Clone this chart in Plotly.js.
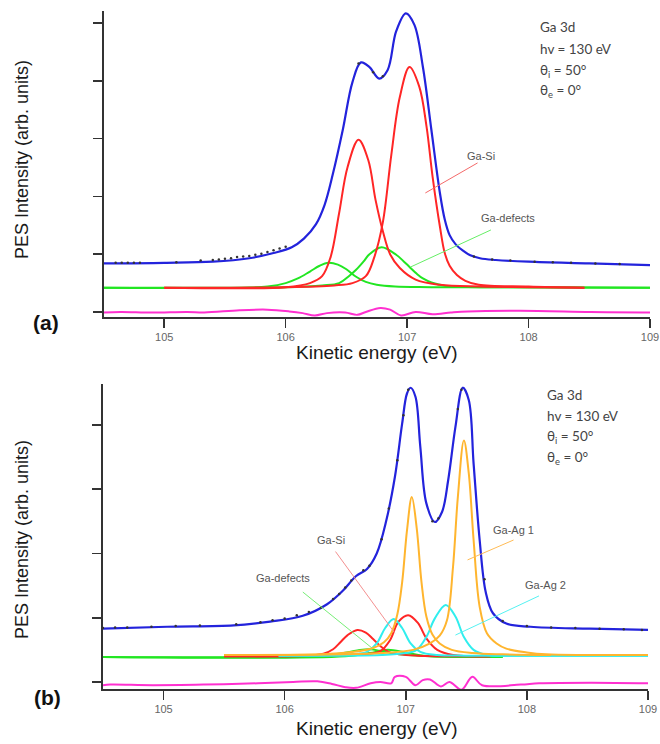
<!DOCTYPE html>
<html>
<head>
<meta charset="utf-8">
<script src="https://cdn.plot.ly/plotly-3.0.1.min.js"></script>
<style>html,body{margin:0;padding:0;background:#fff;}#chart{width:660px;height:744px;}</style>
</head>
<body>
<div id="chart"></div>
<script>
// ---------- Panel (a) data ----------
const blueA_x = [104.5, 105.0, 105.4, 105.7, 105.9, 106.05, 106.15, 106.25, 106.32, 106.39, 106.47, 106.55, 106.62, 106.69, 106.77, 106.84, 106.91, 106.99, 107.06, 107.13, 107.20, 107.27, 107.31, 107.35, 107.40, 107.46, 107.52, 107.6, 107.73, 108.0, 108.5, 109.0];
const blueA_y = [0.84, 0.85, 0.87, 0.93, 1.02, 1.12, 1.27, 1.52, 1.85, 2.40, 3.15, 3.98, 4.32, 4.24, 4.04, 4.19, 4.86, 5.17, 4.97, 4.24, 3.15, 2.06, 1.60, 1.33, 1.17, 1.06, 0.98, 0.93, 0.90, 0.87, 0.84, 0.81];

const dotsA_x = [104.6, 104.65, 104.7, 104.75, 104.8, 105.1, 105.3, 105.4, 105.45, 105.5, 105.55, 105.6, 105.65, 105.7, 105.75, 105.8, 105.85, 105.9, 105.95, 106.0, 106.6, 106.72, 106.8, 107.55, 107.7, 107.85, 108.05, 108.2, 108.35, 108.55, 108.75];
const dotsA_y = [0.85, 0.85, 0.85, 0.85, 0.85, 0.86, 0.89, 0.90, 0.91, 0.92, 0.93, 0.95, 0.96, 0.97, 0.99, 1.01, 1.04, 1.07, 1.10, 1.13, 4.30, 4.15, 4.08, 0.96, 0.91, 0.89, 0.87, 0.86, 0.85, 0.84, 0.83];

const red1A_x = [105.0, 106.0, 106.2, 106.30, 106.37, 106.44, 106.51, 106.60, 106.68, 106.74, 106.80, 106.86, 106.94, 107.07, 107.27, 107.6, 108.0, 108.46];
const red1A_y = [0.42, 0.43, 0.50, 0.62, 0.95, 1.71, 2.51, 2.98, 2.63, 1.94, 1.40, 1.00, 0.76, 0.56, 0.47, 0.44, 0.43, 0.42];

const red2A_x = [105.0, 106.0, 106.4, 106.55, 106.66, 106.73, 106.80, 106.87, 106.94, 107.02, 107.10, 107.16, 107.21, 107.27, 107.31, 107.35, 107.41, 107.48, 107.59, 108.0, 108.46];
const red2A_y = [0.42, 0.43, 0.46, 0.50, 0.62, 0.95, 1.55, 2.72, 3.72, 4.24, 3.90, 3.21, 2.34, 1.48, 1.02, 0.80, 0.64, 0.54, 0.47, 0.44, 0.42];

const green1A_x = [104.5, 105.7, 105.85, 106.0, 106.1, 106.2, 106.28, 106.35, 106.43, 106.50, 106.58, 106.66, 106.75, 106.9, 107.2, 109.0];
const green1A_y = [0.42, 0.42, 0.44, 0.50, 0.58, 0.70, 0.80, 0.85, 0.82, 0.74, 0.61, 0.52, 0.47, 0.44, 0.43, 0.42];

const green2A_x = [104.5, 106.0, 106.3, 106.44, 106.52, 106.58, 106.64, 106.69, 106.79, 106.91, 106.97, 107.02, 107.08, 107.13, 107.20, 107.27, 107.35, 107.6, 109.0];
const green2A_y = [0.42, 0.43, 0.46, 0.50, 0.62, 0.73, 0.87, 1.00, 1.12, 0.99, 0.88, 0.78, 0.66, 0.58, 0.51, 0.47, 0.44, 0.43, 0.42];

const resA_x = [104.5, 104.64, 104.90, 105.19, 105.33, 105.62, 105.85, 106.03, 106.14, 106.24, 106.34, 106.49, 106.59, 106.66, 106.78, 106.86, 106.95, 107.07, 107.21, 107.36, 107.50, 107.93, 108.51, 108.94, 109.0];
const resA_y = [-0.01, 0.0, -0.01, 0.0, -0.01, 0.03, 0.04, 0.01, -0.02, -0.06, -0.02, -0.01, -0.05, 0.0, 0.07, 0.04, -0.06, 0.0, -0.04, -0.01, 0.01, 0.02, 0.0, -0.01, -0.01];

// ---------- Panel (b) data ----------
const blueB_x = [104.5, 105.03, 105.58, 105.88, 106.15, 106.35, 106.48, 106.59, 106.68, 106.76, 106.84, 106.91, 106.97, 107.01, 107.04, 107.08, 107.12, 107.17, 107.24, 107.30, 107.35, 107.41, 107.47, 107.52, 107.56, 107.61, 107.66, 107.72, 107.83, 108.03, 108.52, 109.0];
const blueB_y = [0.83, 0.86, 0.88, 0.94, 1.03, 1.21, 1.42, 1.65, 1.76, 2.00, 2.52, 3.19, 4.02, 4.49, 4.58, 4.44, 3.66, 2.78, 2.49, 2.65, 3.14, 3.97, 4.58, 4.39, 3.40, 2.21, 1.40, 1.07, 0.91, 0.86, 0.83, 0.81];

const dotsB_x = [104.5, 104.6, 104.7, 104.9, 105.1, 105.3, 105.6, 105.8, 105.9, 106.0, 106.1, 106.2, 106.3, 106.4, 106.45, 106.5, 106.55, 106.65, 106.7, 106.8, 106.86, 106.93, 106.98, 107.02, 107.22, 107.27, 107.43, 107.46, 107.65, 107.8, 108.0, 108.2, 108.4, 108.6, 108.8, 108.95];
const dotsB_y = [0.84, 0.85, 0.85, 0.86, 0.87, 0.88, 0.90, 0.93, 0.96, 0.99, 1.04, 1.09, 1.16, 1.29, 1.37, 1.47, 1.58, 1.74, 1.81, 2.22, 2.70, 3.45, 4.15, 4.55, 2.50, 2.55, 4.25, 4.55, 1.60, 0.95, 0.87, 0.85, 0.84, 0.83, 0.82, 0.81];

const orange1B_x = [105.5, 106.3, 106.57, 106.73, 106.82, 106.88, 106.93, 106.97, 107.01, 107.05, 107.09, 107.13, 107.17, 107.22, 107.28, 107.38, 107.55, 107.8, 108.2];
const orange1B_y = [0.42, 0.43, 0.47, 0.53, 0.62, 0.76, 1.05, 1.55, 2.36, 2.88, 2.40, 1.55, 1.02, 0.74, 0.60, 0.50, 0.45, 0.43, 0.42];

const orange2B_x = [105.5, 106.5, 106.79, 107.06, 107.20, 107.28, 107.34, 107.39, 107.43, 107.48, 107.52, 107.56, 107.61, 107.67, 107.75, 107.83, 108.0, 108.16, 108.5, 109.0];
const orange2B_y = [0.42, 0.43, 0.45, 0.50, 0.60, 0.72, 0.96, 1.79, 2.88, 3.76, 3.25, 2.21, 1.17, 0.76, 0.60, 0.52, 0.46, 0.43, 0.42, 0.42];

const cyan1B_x = [105.95, 106.4, 106.6, 106.68, 106.76, 106.83, 106.90, 106.97, 107.04, 107.12, 107.26, 107.5, 109.0];
const cyan1B_y = [0.41, 0.42, 0.44, 0.47, 0.60, 0.84, 0.98, 0.84, 0.60, 0.47, 0.42, 0.41, 0.41];

const cyan2B_x = [105.95, 106.8, 107.0, 107.09, 107.17, 107.24, 107.33, 107.41, 107.48, 107.56, 107.67, 107.9, 109.0];
const cyan2B_y = [0.41, 0.42, 0.45, 0.50, 0.70, 0.99, 1.20, 1.02, 0.70, 0.50, 0.42, 0.41, 0.41];

const red1B_x = [105.5, 106.2, 106.32, 106.40, 106.46, 106.52, 106.60, 106.67, 106.73, 106.79, 106.86, 106.95, 107.1, 107.4, 107.7];
const red1B_y = [0.40, 0.41, 0.44, 0.51, 0.62, 0.73, 0.81, 0.77, 0.67, 0.56, 0.47, 0.43, 0.41, 0.40, 0.40];

const red2B_x = [105.5, 106.5, 106.70, 106.79, 106.87, 106.94, 107.02, 107.10, 107.17, 107.26, 107.39, 107.7];
const red2B_y = [0.40, 0.42, 0.44, 0.48, 0.65, 0.94, 1.04, 0.92, 0.68, 0.50, 0.42, 0.40];

const green1B_x = [104.5, 106.2, 106.45, 106.6, 106.7, 106.8, 106.95, 107.2, 107.8];
const green1B_y = [0.39, 0.40, 0.44, 0.49, 0.51, 0.48, 0.43, 0.40, 0.39];

const green2B_x = [104.5, 106.5, 106.7, 106.85, 107.0, 107.15, 107.8];
const green2B_y = [0.39, 0.40, 0.45, 0.50, 0.46, 0.41, 0.39];

const resB_x = [104.5, 104.56, 104.91, 105.34, 105.78, 106.07, 106.27, 106.39, 106.50, 106.59, 106.71, 106.79, 106.88, 106.91, 107.00, 107.08, 107.14, 107.20, 107.29, 107.36, 107.46, 107.55, 107.63, 107.95, 108.10, 108.53, 109.0];
const resB_y = [-0.05, -0.04, -0.05, -0.04, -0.02, 0.0, 0.01, -0.03, -0.08, -0.09, -0.02, 0.0, -0.02, 0.08, 0.08, -0.05, 0.03, 0.04, -0.07, 0.0, -0.12, 0.08, -0.05, -0.04, -0.02, -0.01, -0.02];

// ---------- tick labels / texts ----------
const xTicks = [105, 106, 107, 108, 109];
const yTicksA = [0, 1, 2, 3, 4, 5];
const yTicksB = [0, 1, 2, 3, 4];
const infoLines = ['Ga 3d', 'hv = 130 eV', 'θ<sub>i</sub> = 50°', 'θ<sub>e</sub> = 0°'];

const C = {blue:'#2323dc', red:'#ff2626', green:'#22e622', orange:'#ffb52e', cyan:'#30eeee', mag:'#ff30d0'};
const W = 2;

function line(x, y, color, xa, ya, width) {
  return {x:x, y:y, xaxis:xa, yaxis:ya, type:'scatter', mode:'lines',
          line:{color:color, width:width||W, shape:'spline', smoothing:1}, hoverinfo:'skip', showlegend:false};
}
function dots(x, y, xa, ya) {
  return {x:x, y:y, xaxis:xa, yaxis:ya, type:'scatter', mode:'markers',
          marker:{color:'#333', size:2.5}, hoverinfo:'skip', showlegend:false};
}

const traces = [
  line(green1A_x, green1A_y, C.green, 'x', 'y'),
  line(green2A_x, green2A_y, C.green, 'x', 'y'),
  line(red1A_x, red1A_y, C.red, 'x', 'y'),
  line(red2A_x, red2A_y, C.red, 'x', 'y'),
  line(blueA_x, blueA_y, C.blue, 'x', 'y', 2.2),
  dots(dotsA_x, dotsA_y, 'x', 'y'),
  line(resA_x, resA_y, C.mag, 'x', 'y'),

  line(green1B_x, green1B_y, C.green, 'x2', 'y2'),
  line(green2B_x, green2B_y, C.green, 'x2', 'y2'),
  line(red1B_x, red1B_y, C.red, 'x2', 'y2'),
  line(red2B_x, red2B_y, C.red, 'x2', 'y2'),
  line(cyan1B_x, cyan1B_y, C.cyan, 'x2', 'y2'),
  line(cyan2B_x, cyan2B_y, C.cyan, 'x2', 'y2'),
  line(orange1B_x, orange1B_y, C.orange, 'x2', 'y2'),
  line(orange2B_x, orange2B_y, C.orange, 'x2', 'y2'),
  line(blueB_x, blueB_y, C.blue, 'x2', 'y2', 2.2),
  dots(dotsB_x, dotsB_y, 'x2', 'y2'),
  line(resB_x, resB_y, C.mag, 'x2', 'y2')
];

const axFont = {family:'Liberation Sans, Arial, sans-serif', size:11, color:'#666'};
function xax(domain) {
  return {domain:domain, range:[104.5, 109], tickvals:xTicks, ticktext:xTicks.map(String),
          ticks:'outside', ticklen:9, tickwidth:1.5, tickcolor:'#333',
          showline:true, linecolor:'#333', linewidth:2, showgrid:false, zeroline:false,
          tickfont:axFont, fixedrange:true};
}
function yax(domain, range, tv, anchor) {
  return {domain:domain, range:range, tickvals:tv, showticklabels:false, anchor:anchor,
          ticks:'outside', ticklen:9, tickwidth:1.5, tickcolor:'#333',
          showline:true, linecolor:'#333', linewidth:2, showgrid:false, zeroline:false, fixedrange:true};
}

const titleFont = {family:'Liberation Sans, Arial, sans-serif', size:18, color:'#1a1a1a'};
const infoFont = {family:'Lato, Open Sans, sans-serif', size:13.5, color:'#444'};
const lblFont = {family:'Liberation Sans, Arial, sans-serif', size:11, color:'#555'};

const ann = [];
function paperText(text, x, y, font, opts) {
  ann.push(Object.assign({text:text, x:x/660, y:1 - y/744, xref:'paper', yref:'paper',
    showarrow:false, font:font, xanchor:'center', yanchor:'middle'}, opts||{}));
}
// axis titles
paperText('PES Intensity (arb. units)', 22, 160, titleFont, {textangle:-90});
paperText('PES Intensity (arb. units)', 22, 540, titleFont, {textangle:-90});
paperText('Kinetic energy (eV)', 377, 352, Object.assign({}, titleFont, {size:19}));
paperText('Kinetic energy (eV)', 377, 728, Object.assign({}, titleFont, {size:19}));
paperText('<b>(a)</b>', 46, 323, {family:'Liberation Sans, Arial, sans-serif', size:21, color:'#111'});
paperText('<b>(b)</b>', 47, 697, {family:'Liberation Sans, Arial, sans-serif', size:21, color:'#111'});
// info blocks
const infoYA = [27, 49, 71, 91];
const infoYB = [395, 416, 437, 458];
infoLines.forEach((t, i) => {
  paperText(t, 538, infoYA[i], infoFont, {xanchor:'left'});
  paperText(t, 545, infoYB[i], infoFont, {xanchor:'left'});
});
// component labels (data coordinates)
function dataText(text, x, y, xa, ya) {
  ann.push({text:text, x:x, y:y, xref:xa, yref:ya, showarrow:false, font:lblFont, xanchor:'center', yanchor:'middle'});
}
dataText('Ga-Si', 107.61, 2.70, 'x', 'y');
dataText('Ga-defects', 107.83, 1.63, 'x', 'y');
dataText('Ga-Si', 106.38, 2.21, 'x2', 'y2');
dataText('Ga-defects', 105.99, 1.62, 'x2', 'y2');
dataText('Ga-Ag 1', 107.89, 2.36, 'x2', 'y2');
dataText('Ga-Ag 2', 108.15, 1.51, 'x2', 'y2');

function leader(x0, y0, x1, y1, color, xa, ya) {
  return {type:'line', x0:x0, y0:y0, x1:x1, y1:y1, xref:xa, yref:ya, line:{color:color, width:1}};
}
const shapes = [
  leader(107.15, 2.06, 107.58, 2.58, '#f46a6a', 'x', 'y'),
  leader(107.03, 0.78, 107.69, 1.42, '#66ee66', 'x', 'y'),
  leader(106.42, 2.03, 106.91, 0.76, '#f49090', 'x2', 'y2'),
  leader(106.15, 1.40, 106.72, 0.53, '#77ee77', 'x2', 'y2'),
  leader(107.51, 1.90, 107.89, 2.21, '#ffbb55', 'x2', 'y2'),
  leader(107.41, 0.73, 108.10, 1.34, '#55f2f2', 'x2', 'y2')
];

const layout = {
  width:660, height:744, margin:{l:0, r:0, t:0, b:0},
  paper_bgcolor:'#fff', plot_bgcolor:'#fff', showlegend:false,
  xaxis: xax([103.5/660, 650/660]),
  yaxis: yax([1 - 317/744, 1 - 11/744], [-0.087, 5.21], yTicksA, 'x'),
  xaxis2: Object.assign(xax([103/660, 648/660]), {anchor:'y2'}),
  yaxis2: yax([1 - 689/744, 1 - 384/744], [-0.109, 4.638], yTicksB, 'x2'),
  annotations: ann, shapes: shapes
};
layout.xaxis.anchor = 'y';

Plotly.newPlot('chart', traces, layout, {staticPlot:true, displayModeBar:false});
</script>
</body>
</html>
